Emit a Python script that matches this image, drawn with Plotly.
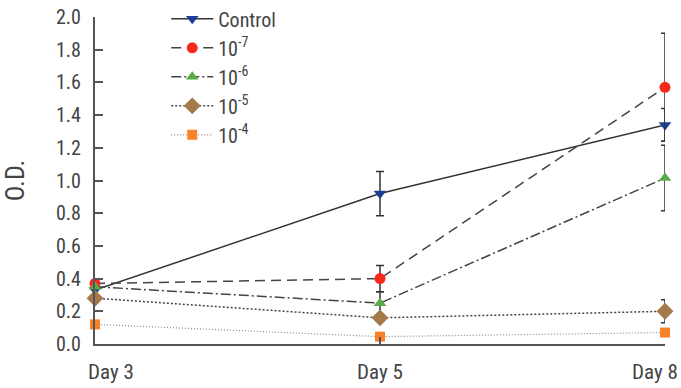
import plotly.graph_objects as go

days = ["Day 3", "Day 5", "Day 8"]
xpos = [0, 1, 2]

names = ["Control", "10<sup>-7</sup>", "10<sup>-6</sup>", "10<sup>-5</sup>", "10<sup>-4</sup>"]
control = [0.33, 0.92, 1.34]
control_err = [0, 0.135, 0.10]
c7 = [0.37, 0.40, 1.57]
c7_err = [0, 0.08, 0.33]
c6 = [0.35, 0.25, 1.015]
c6_err = [0, 0.07, 0.20]
c5 = [0.28, 0.16, 0.20]
c5_err = [0, 0, 0.07]
c4 = [0.12, 0.045, 0.07]
c4_err = [0, 0, 0]

yticks = [0.0, 0.2, 0.4, 0.6, 0.8, 1.0, 1.2, 1.4, 1.6, 1.8, 2.0]

FONT = "Liberation Sans Narrow, Roboto Condensed, Roboto, Arial"
AX = "#555555"
TXT = "#444444"

series = [
    (names[0], control, control_err, "solid", "#333333", 1.5, "triangle-down", "#1c3f95", 11),
    (names[1], c7, c7_err, "10px,6px", "#444444", 1.5, "circle", "#f52a1a", 11),
    (names[2], c6, c6_err, "10px,3px,2px,3px", "#444444", 1.5, "triangle-up", "#5aaa46", 11),
    (names[3], c5, c5_err, "2px,2px", "#444444", 1.5, "diamond", "#a5794a", 13),
    (names[4], c4, c4_err, "1px,2px", "#888888", 1.2, "square", "#f7822a", 10),
]

fig = go.Figure()
for i, (nm, ys, er, dash, lc, lw, sym, mc, ms) in enumerate(series):
    fig.add_trace(go.Scatter(
        x=xpos, y=ys, name=nm, mode="lines+markers",
        line=dict(color=lc, width=lw, dash=dash),
        marker=dict(symbol=sym, color=mc, size=ms, line=dict(width=0)),
        error_y=dict(type="data", array=er, visible=True, color="#333333", thickness=1.5, width=4),
        cliponaxis=False, legendgroup=str(i),
    ))

fig.update_layout(
    width=681, height=388,
    margin=dict(l=95, r=16, t=17, b=44, autoexpand=False),
    paper_bgcolor="white", plot_bgcolor="white",
    font=dict(family=FONT, size=20, color=TXT),
    showlegend=True,
    legend=dict(x=0.125, y=1.054, xanchor="left", yanchor="top",
                bgcolor="rgba(0,0,0,0)", tracegroupgap=0,
                font=dict(size=20, color=TXT), itemwidth=42),
    xaxis=dict(range=[0, 2], tickvals=xpos, ticktext=days, showticklabels=False,
               showgrid=False, zeroline=False, showline=True, linecolor=AX, linewidth=2,
               ticks="inside", ticklen=7, tickwidth=1.5, tickcolor=AX, automargin=False),
    yaxis=dict(range=[0, 2], tickvals=yticks, tickformat=".1f",
               showgrid=False, zeroline=False, showline=True, linecolor=AX, linewidth=2,
               ticks="inside", ticklen=8, tickwidth=1.5, tickcolor=AX,
               ticklabelstandoff=8, automargin=False,
               tickfont=dict(size=20, color=TXT),
               title=dict(text="O.D.", font=dict(size=26, color=TXT), standoff=24)),
)

shifts = [(-9, "left"), (0, "center"), (15, "right")]
for xv, lab, (sh, anc) in zip(xpos, days, shifts):
    fig.add_annotation(x=xv, y=0, xref="x", yref="paper", text=lab, showarrow=False,
                       xanchor=anc, yanchor="top", yshift=-14, xshift=sh,
                       font=dict(size=21, color=TXT, family=FONT))

fig.write_html("out.html")
